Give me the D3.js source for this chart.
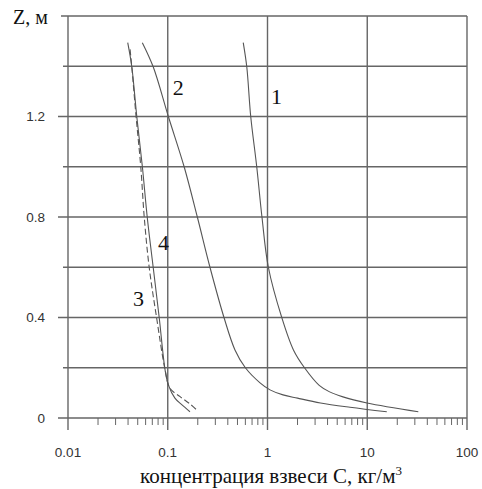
<!DOCTYPE html>
<html>
<head>
<meta charset="utf-8">
<script src="https://cdn.jsdelivr.net/npm/d3@7/dist/d3.min.js"></script>
<style>
  body { margin: 0; background: #fff; }
  svg { display: block; }
</style>
</head>
<body>
<div id="chart"></div>
<script>
// concentration C (kg/m3) vs depth Z (m)
var curve1C = [0.571, 0.62, 0.679, 0.78, 0.88, 1.02, 1.39, 1.82, 2.35, 3.3, 4.15, 5.71, 9.95, 32.5];
var curve1Z = [1.494, 1.397, 1.2, 1.0, 0.8, 0.6, 0.4, 0.271, 0.2, 0.13, 0.105, 0.084, 0.06, 0.025];

var curve2C = [0.0556, 0.0716, 0.1014, 0.146, 0.198, 0.265, 0.367, 0.472, 0.6, 0.842, 1.06, 1.43, 2.0, 3.4, 6.71, 15.7];
var curve2Z = [1.494, 1.397, 1.2, 1.0, 0.8, 0.6, 0.399, 0.271, 0.2, 0.14, 0.112, 0.092, 0.079, 0.06, 0.043, 0.025];

var curve3C = [0.0419, 0.0436, 0.0481, 0.0536, 0.0582, 0.0653, 0.0774, 0.0938, 0.1054, 0.133, 0.167, 0.2];
var curve3Z = [1.467, 1.398, 1.201, 1.002, 0.796, 0.597, 0.398, 0.194, 0.118, 0.085, 0.056, 0.028];

var curve4C = [0.0397, 0.0436, 0.0489, 0.0556, 0.0624, 0.0716, 0.0822, 0.0938, 0.1014, 0.118, 0.139, 0.167];
var curve4Z = [1.494, 1.398, 1.201, 1.002, 0.796, 0.597, 0.398, 0.194, 0.132, 0.079, 0.052, 0.025];

var xTicks = [0.01, 0.1, 1, 10, 100];
var xTickLabels = ["0.01", "0.1", "1", "10", "100"];
var yGrid = [0, 0.2, 0.4, 0.6, 0.8, 1.0, 1.2, 1.4, 1.6];
var yTickLabels = [0, 0.4, 0.8, 1.2];

var curveLabels = ["1", "2", "3", "4"];
var labelC = [1.084, 0.112, 0.0449, 0.0798];
var labelZ = [1.248, 1.285, 0.447, 0.67];

var W = 482, H = 489;
var margin = {top: 16, right: 15, bottom: 71, left: 68};
var width = W - margin.left - margin.right,
    height = H - margin.top - margin.bottom;

var svg = d3.select("#chart").append("svg")
    .attr("width", W)
    .attr("height", H);

var g = svg.append("g")
    .attr("transform", "translate(" + margin.left + "," + margin.top + ")");

var x = d3.scaleLog().domain([0.01, 100]).range([0, width]);
var y = d3.scaleLinear().domain([0, 1.6]).range([height, 0]);

var gridColor = "#666";

// minor ticks along bottom
var minor = [];
for (var d = 0.01; d < 100; d *= 10) {
    for (var k = 2; k <= 9; k++) minor.push(d * k);
}
g.append("g").selectAll("line").data(minor).enter().append("line")
    .attr("x1", function (v) { return x(v); })
    .attr("x2", function (v) { return x(v); })
    .attr("y1", height)
    .attr("y2", height + 7)
    .attr("stroke", gridColor)
    .attr("stroke-width", 1);

// vertical gridlines
g.append("g").selectAll("line").data(xTicks).enter().append("line")
    .attr("x1", function (v) { return x(v); })
    .attr("x2", function (v) { return x(v); })
    .attr("y1", 0)
    .attr("y2", height + 12)
    .attr("stroke", gridColor)
    .attr("stroke-width", 1.4);

// horizontal gridlines
g.append("g").selectAll("line").data(yGrid).enter().append("line")
    .attr("x1", function (v) {
        if (v === 1.6) return -7;
        return yTickLabels.indexOf(v) >= 0 ? -10 : -5;
    })
    .attr("x2", width)
    .attr("y1", function (v) { return y(v); })
    .attr("y2", function (v) { return y(v); })
    .attr("stroke", gridColor)
    .attr("stroke-width", 1.4);

// tick labels
g.append("g").selectAll("text").data(xTicks).enter().append("text")
    .attr("x", function (v) { return x(v); })
    .attr("y", height + 39)
    .attr("text-anchor", "middle")
    .attr("font-family", "Liberation Sans, Arial, sans-serif")
    .attr("font-size", 13.5)
    .attr("fill", "#333")
    .text(function (v, i) { return xTickLabels[i]; });

g.append("g").selectAll("text").data(yTickLabels).enter().append("text")
    .attr("x", -23)
    .attr("y", function (v) { return y(v); })
    .attr("dy", "0.35em")
    .attr("text-anchor", "end")
    .attr("font-family", "Liberation Sans, Arial, sans-serif")
    .attr("font-size", 13.5)
    .attr("fill", "#333")
    .text(function (v) { return v === 0 ? "0" : v.toFixed(1); });

// curves
var line = d3.line()
    .x(function (p) { return x(p[0]); })
    .y(function (p) { return y(p[1]); })
    .curve(d3.curveCatmullRom.alpha(0.5));

var curves = [
    {c: curve1C, z: curve1Z, dash: null},
    {c: curve2C, z: curve2Z, dash: null},
    {c: curve3C, z: curve3Z, dash: "6,3"},
    {c: curve4C, z: curve4Z, dash: null}
];

curves.forEach(function (cv) {
    var pts = cv.c.map(function (v, i) { return [v, cv.z[i]]; });
    g.append("path")
        .datum(pts)
        .attr("fill", "none")
        .attr("stroke", "#555")
        .attr("stroke-width", 1.1)
        .attr("stroke-dasharray", cv.dash)
        .attr("d", line);
});

// curve numbers
g.append("g").selectAll("text").data(curveLabels).enter().append("text")
    .attr("x", function (v, i) { return x(labelC[i]); })
    .attr("y", function (v, i) { return y(labelZ[i]); })
    .attr("font-family", "Liberation Serif, Times New Roman, serif")
    .attr("font-size", 22)
    .attr("fill", "#111")
    .text(function (v) { return v; });

// axis titles
svg.append("text")
    .attr("x", 13)
    .attr("y", 24)
    .attr("font-family", "Liberation Serif, Times New Roman, serif")
    .attr("font-size", 20)
    .attr("fill", "#111")
    .text("Z, м");

svg.append("text")
    .attr("x", 271)
    .attr("y", 483)
    .attr("text-anchor", "middle")
    .attr("font-family", "Liberation Serif, Times New Roman, serif")
    .attr("font-size", 21)
    .attr("fill", "#111")
    .html("концентрация взвеси С, кг/м<tspan dy='-8' font-size='13'>3</tspan>");
</script>
</body>
</html>
